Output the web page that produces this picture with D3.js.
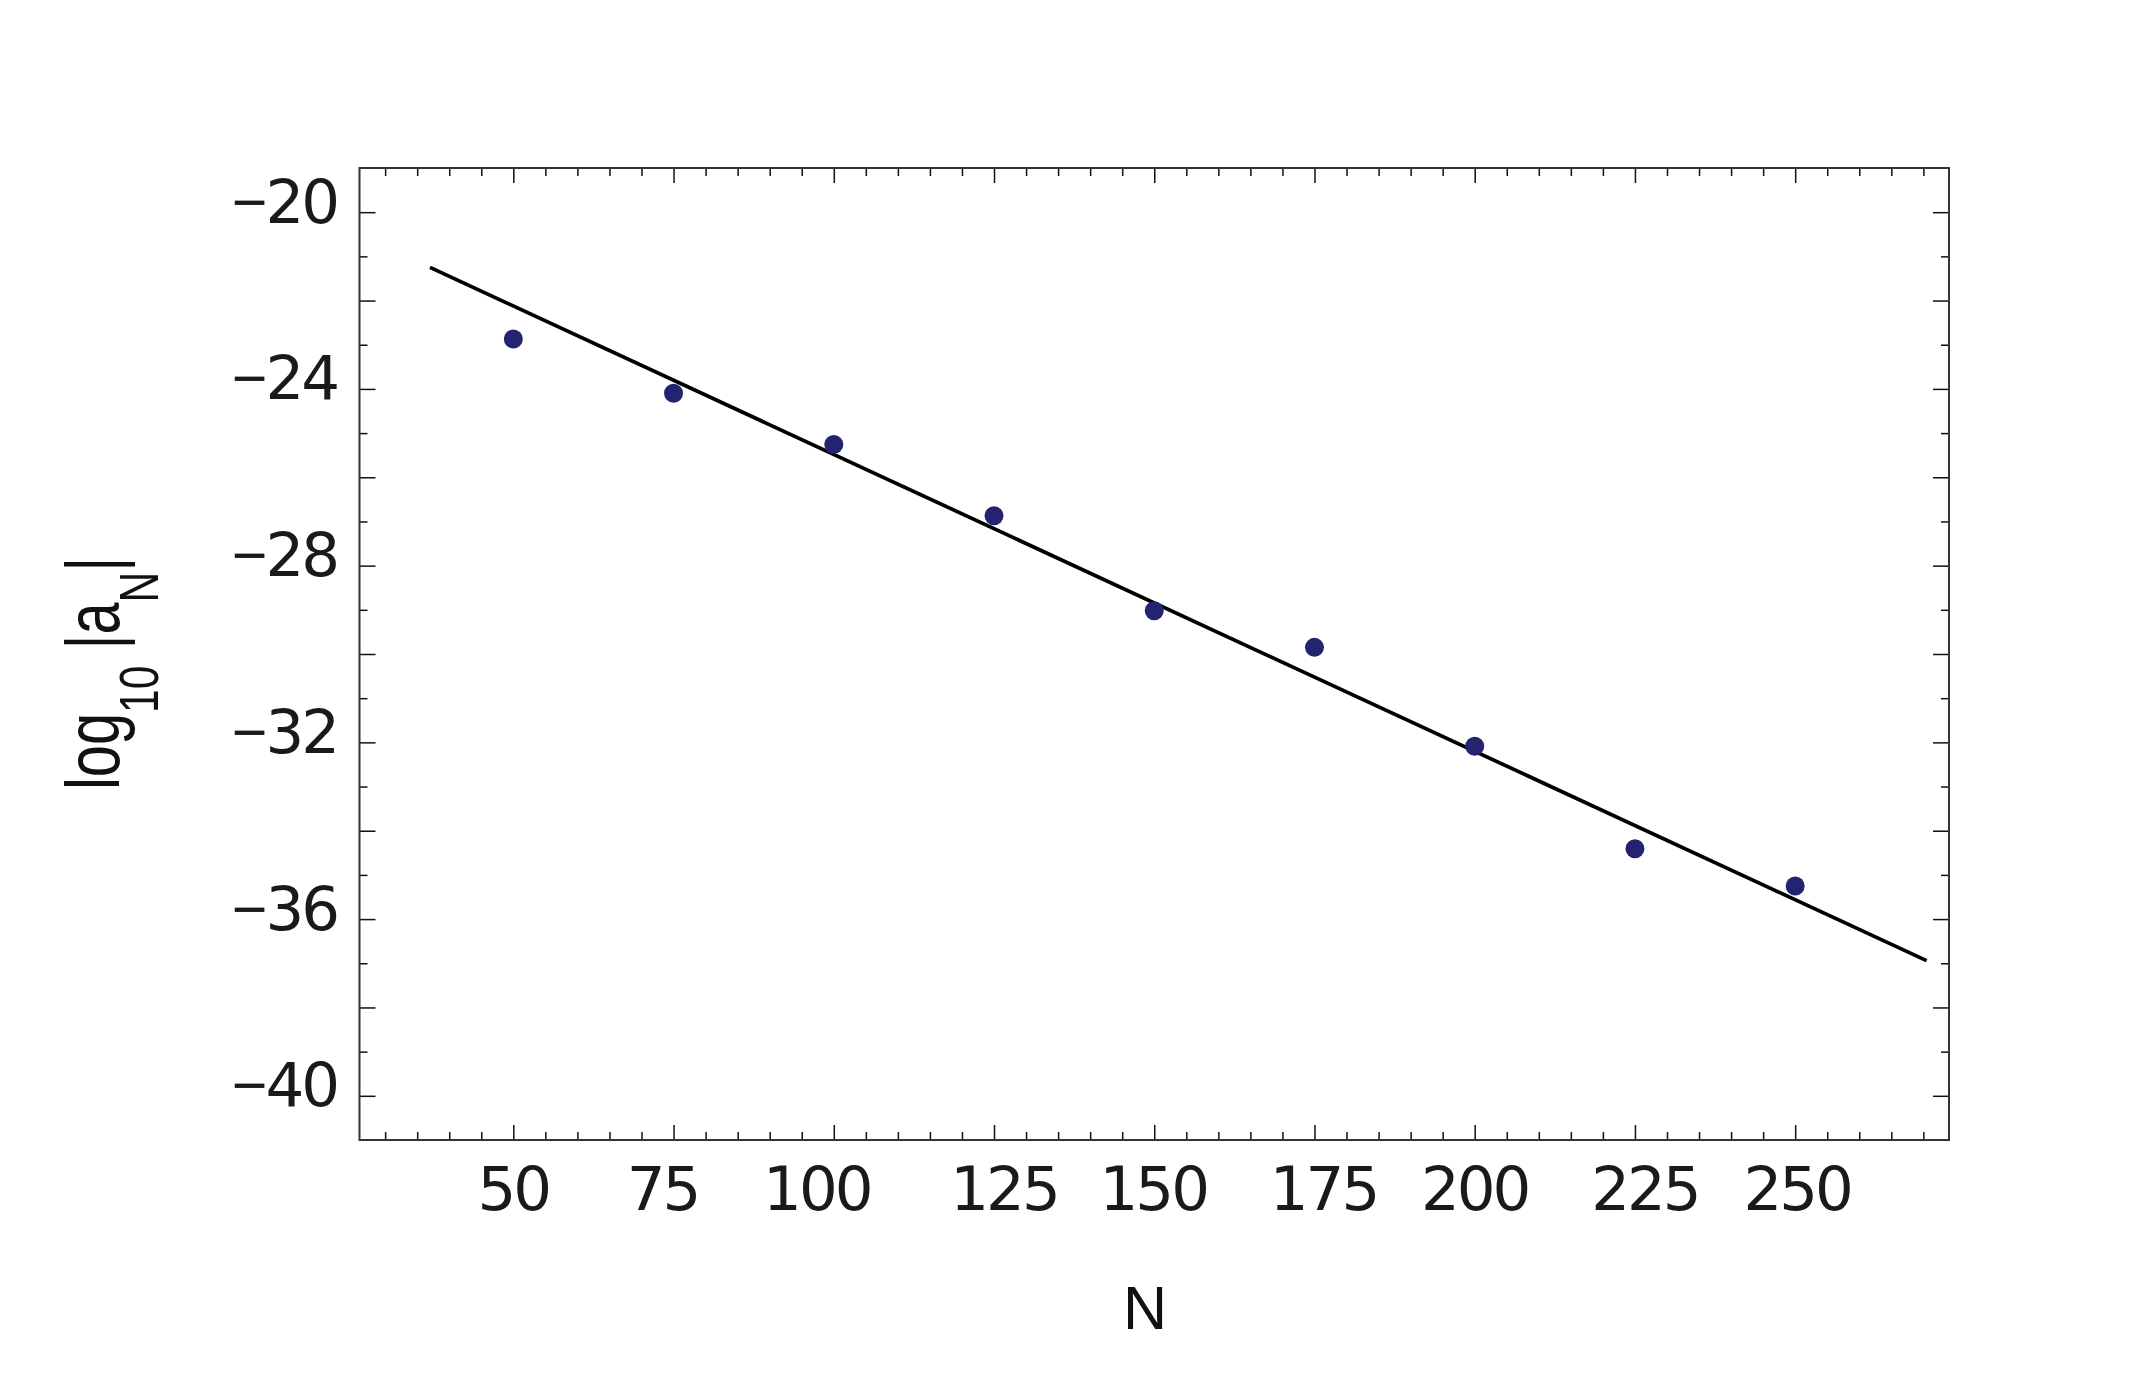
<!DOCTYPE html>
<html><head><meta charset="utf-8">
<script src="https://cdn.jsdelivr.net/npm/d3@7"></script>
<style>body{margin:0;background:#fff}</style>
</head><body><svg id="c" width="2140" height="1380"></svg>
<script>
// ---- data ----
const nValues = [50, 75, 100, 125, 150, 175, 200, 225, 250];
const logCoeff = [-22.87, -24.10, -25.26, -26.87, -29.02, -29.85, -32.09, -34.41, -35.25];
const fitN = [37, 270.5];
const fitLog = [-21.25, -36.94];
const xTicks = [50, 75, 100, 125, 150, 175, 200, 225, 250];
const yTicks = [-20, -24, -28, -32, -36, -40];

// ---- style: small per-label horizontal nudges seen in the original rendering ----
const xLabelNudge = [1, -10, -16, 11, 0, 10, 1, 11, 3];

// ---- layout ----
const L = 359.5, R = 1949, T = 168, B = 1140;
const svg = d3.select('#c');
svg.append('rect').attr('width', 2140).attr('height', 1380).attr('fill', '#fff');

const x = d3.scaleLinear().domain([26, 274]).range([L, R]);
const y = d3.scaleLinear().domain([-41, -19]).range([B, T]);

const xMinor = d3.range(30, 275, 5).filter(v => !xTicks.includes(v));
const yLong = d3.range(-40, -19, 2);
const yShort = d3.range(-39, -19, 2);

function styleAxis(g) {
  g.select('.domain').remove();
  g.selectAll('.tick line').attr('stroke', '#111').attr('stroke-width', 1.5);
}

// bottom
svg.append('g').attr('transform', `translate(0,${B})`)
  .call(d3.axisBottom(x).tickValues(xMinor).tickSize(-8).tickFormat('')).call(styleAxis);
const xb = svg.append('g').attr('transform', `translate(0,${B})`)
  .call(d3.axisBottom(x).tickValues(xTicks).tickSize(-15).tickFormat(d3.format('d'))).call(styleAxis);
xb.selectAll('.tick text')
  .attr('y', 70).attr('dy', 0)
  .attr('x', (d, i) => xLabelNudge[i] - 1.5)
  .attr('letter-spacing', -3)
  .attr('font-family', 'DejaVu Sans').attr('font-size', 61).attr('fill', '#1a1a1a');
// top
svg.append('g').attr('transform', `translate(0,${T})`)
  .call(d3.axisTop(x).tickValues(xMinor).tickSize(-8).tickFormat('')).call(styleAxis);
svg.append('g').attr('transform', `translate(0,${T})`)
  .call(d3.axisTop(x).tickValues(xTicks).tickSize(-15).tickFormat('')).call(styleAxis);

// left
svg.append('g').attr('transform', `translate(${L},0)`)
  .call(d3.axisLeft(y).tickValues(yShort).tickSize(-8).tickFormat('')).call(styleAxis);
svg.append('g').attr('transform', `translate(${L},0)`)
  .call(d3.axisLeft(y).tickValues(yLong).tickSize(-16).tickFormat('')).call(styleAxis);
const yl = svg.append('g').attr('transform', `translate(${L},0)`)
  .call(d3.axisLeft(y).tickValues(yTicks).tickSize(0).tickFormat(d => String(Math.abs(d)))).call(styleAxis);
yl.selectAll('.tick text').each(function(d) {
  const t = d3.select(this);
  const digits = t.text();
  t.text('').attr('x', -22.5).attr('y', 10).attr('dy', 0)
    .attr('text-anchor', 'end')
    .attr('font-family', 'DejaVu Sans').attr('font-size', 61).attr('fill', '#1a1a1a');
  t.append('tspan').attr('font-family', 'Liberation Sans').text('\u2212');
  t.append('tspan').attr('dx', -2).attr('letter-spacing', -3).text(digits);
});
// right
svg.append('g').attr('transform', `translate(${R},0)`)
  .call(d3.axisRight(y).tickValues(yShort).tickSize(-8).tickFormat('')).call(styleAxis);
svg.append('g').attr('transform', `translate(${R},0)`)
  .call(d3.axisRight(y).tickValues(yLong).tickSize(-16).tickFormat('')).call(styleAxis);

// frame
svg.append('rect').attr('x', L).attr('y', T).attr('width', R - L).attr('height', B - T)
  .attr('fill', 'none').attr('stroke', '#333').attr('stroke-width', 2);

// fit line
const fitData = fitN.map((n, i) => [n, fitLog[i]]);
svg.append('path').datum(fitData)
  .attr('d', d3.line().x(d => x(d[0])).y(d => y(d[1])))
  .attr('fill', 'none').attr('stroke', '#000').attr('stroke-width', 3.7);

// points
svg.append('g').selectAll('circle').data(nValues.map((n, i) => [n, logCoeff[i]]))
  .join('circle')
  .attr('cx', d => x(d[0])).attr('cy', d => y(d[1])).attr('r', 9.5)
  .attr('fill', '#23236f');

// x title
svg.append('text').attr('x', 1145).attr('y', 1329).attr('text-anchor', 'middle')
  .attr('font-family', 'Liberation Sans').attr('font-size', 61).attr('fill', '#111').text('N');

// y title
const yt = svg.append('text')
  .attr('transform', 'translate(119,790) rotate(-90) scale(0.76,1)')
  .attr('font-family', 'Liberation Sans').attr('font-size', 76).attr('fill', '#111');
yt.append('tspan').text('log');
yt.append('tspan').attr('font-size', 56).attr('dy', 39).text('10');
yt.append('tspan').attr('dy', -39).text('\u00a0|a');
yt.append('tspan').attr('font-size', 56).attr('dy', 39).text('N');
yt.append('tspan').attr('dy', -39).text('|');
</script></body></html>
